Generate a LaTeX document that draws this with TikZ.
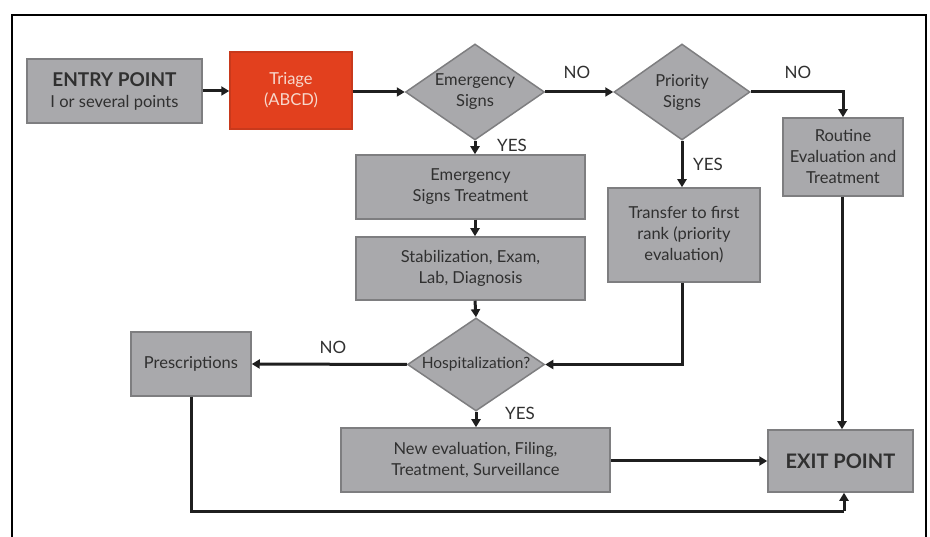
\documentclass[tikz,border=0pt]{standalone}
\usepackage{fontspec}
\setmainfont{Lato}
\usetikzlibrary{shapes.geometric,arrows.meta}
\definecolor{boxfill}{HTML}{A9A9AC}
\definecolor{boxline}{HTML}{7E7E80}
\definecolor{txt}{HTML}{303030}
\definecolor{triagered}{HTML}{E2401E}
\definecolor{triageline}{HTML}{C8391C}
\definecolor{triagetxt}{HTML}{F7D8CC}
\tikzset{
  x=1pt,y=-1pt,
  base/.style={draw=boxline,fill=boxfill,line width=1.5pt,text=txt,align=center,inner sep=0pt,
     font=\fontsize{16.5}{21}\selectfont},
  box/.style={base,rectangle},
  dia/.style={base,diamond,aspect=1.45},
  conn/.style={line width=3pt,draw=black!88,-{Triangle[length=8pt,width=9pt]}},
  plain/.style={line width=3pt,draw=black!88},
  lbl/.style={text=txt,font=\fontsize{17}{20}\selectfont,inner sep=0pt},
}
\begin{document}
\begin{tikzpicture}
\useasboundingbox (0,0) rectangle (930,537);
% frame
\draw[line width=1.6pt,black] (12,537) -- (12,15) -- (926,15) -- (926,537);

\node[box,minimum width=175pt,minimum height=64pt] (entry) at (114.5,91)
  {{\fontsize{19}{21}\selectfont\bfseries ENTRY POINT}\\I or several points};
\node[box,fill=triagered,draw=triageline,text=triagetxt,minimum width=122pt,minimum height=77pt] (triage) at (291,90.5)
  {Triage\\(ABCD)};
\node[dia,minimum width=139pt,minimum height=96pt] (emerg) at (475,92) {Emergency\\Signs};
\node[dia,minimum width=136pt,minimum height=96pt] (prio) at (682,92) {Priority\\Signs};
\node[box,minimum width=120pt,minimum height=78pt] (routine) at (843,157) {Routine\\Evaluation and\\Treatment};
\node[box,minimum width=229pt,minimum height=64pt] (est) at (470.5,187) {Emergency\\Signs Treatment};
\node[box,minimum width=229pt,minimum height=63pt] (stab) at (470.5,268.5) {Stabilization, Exam,\\Lab, Diagnosis};
\node[box,minimum width=152pt,minimum height=94pt] (transfer) at (684,235) {Transfer to first\\rank (priority\\evaluation)};
\node[dia,minimum width=137pt,minimum height=93pt,font=\fontsize{15.5}{18}\selectfont] (hosp) at (476,364.5) {Hospitalization?};
\node[box,minimum width=120pt,minimum height=64pt] (presc) at (191,364) {Prescriptions};
\node[box,minimum width=269pt,minimum height=64pt] (neweval) at (475.5,460) {New evaluation, Filing,\\Treatment, Surveillance};
\node[box,minimum width=145pt,minimum height=62pt,font=\fontsize{20}{22}\selectfont\bfseries] (exit) at (840.5,461) {EXIT POINT};

\coordinate (botL) at (191,511);
\coordinate (botR) at (844,511);

% connectors
\draw[conn] (entry.east) -- (entry.east -| triage.west);
\draw[conn] (triage.east |- emerg.west) -- (emerg.west);
\draw[conn] (emerg.east) -- (prio.west);
\draw[conn] (prio.east) -| (routine.north);
\draw[conn] (emerg.south) -- (emerg.south |- est.north);
\draw[conn] (prio.south) -- (prio.south |- transfer.north);
\draw[conn] (emerg.south |- est.south) -- (emerg.south |- stab.north);
\draw[conn] (emerg.south |- stab.south) -- (hosp.north);
\draw[conn] (transfer.south -| prio.south) |- (hosp.east);
\draw[conn] (hosp.west) -- (presc.east);
\draw[conn] (hosp.south) -- (hosp.south |- neweval.north);
\draw[conn] (neweval.east |- exit.west) -- (exit.west);
\draw[conn] (routine.south -| 842,0) -- (exit.north -| 842,0);
\draw[plain] (presc.south) -- (botL) -- (botR);
\draw[conn] (botR) -- (exit.south -| botR);

% labels
\node[lbl] (no1) at (577,72) {NO};
\node[lbl] (no2) at (798,72) {NO};
\node[lbl] (yes1) at (512,145) {YES};
\node[lbl] (yes2) at (708,164) {YES};
\node[lbl] (no3) at (333,347) {NO};
\node[lbl] (yes3) at (520,413) {YES};
\end{tikzpicture}
\end{document}
